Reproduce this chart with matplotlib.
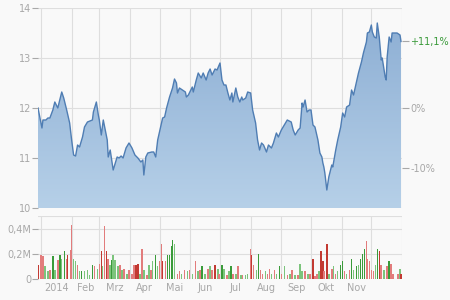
import numpy as np
import matplotlib
matplotlib.use('Agg')
import matplotlib.pyplot as plt
from matplotlib.colors import LinearSegmentedColormap

# closing prices, day offset from 2014-01-01
days = [-3, 1, 2, 5, 7, 9, 12, 14, 17, 21, 23, 26, 29, 31, 33, 35, 37, 39,
        42, 44, 47, 52, 53, 56, 58, 59, 61, 63, 64, 67, 68, 70, 73, 77, 79,
        81, 83, 86, 89, 92, 95, 98, 101, 103, 104, 106, 108, 112, 114, 116,
        118, 121, 123, 125, 127, 130, 133, 135, 137, 138, 140, 143, 146, 147,
        149, 153, 154, 157, 159, 162, 164, 167, 169, 171, 173, 176, 178, 181,
        183, 185, 187, 189, 191, 193, 194, 197, 199, 201, 203, 204, 207, 209,
        212, 214, 217, 219, 221, 223, 225, 228, 230, 233, 235, 238, 240, 243,
        246, 249, 253, 255, 257, 260, 262, 264, 265, 267, 269, 271, 273, 275,
        277, 280, 282, 284, 285, 286, 287, 289, 291, 294, 295, 298, 300, 303,
        305, 307, 309, 312, 314, 316, 319, 321, 324, 326, 329, 330, 332, 334,
        335, 337, 339, 340, 342, 344, 345, 348, 349, 350, 352, 354, 355, 360,
        363, 364]
close = [12.0, 11.6, 11.76, 11.76, 11.8, 11.8, 11.96, 12.12, 12.0, 12.32,
         12.2, 11.96, 11.7, 11.36, 11.06, 11.04, 11.26, 11.22, 11.42, 11.62,
         11.72, 11.76, 11.92, 12.12, 11.86, 11.76, 11.46, 11.76, 11.66, 11.36,
         11.02, 11.16, 10.76, 11.02, 11.0, 11.04, 11.0, 11.2, 11.3, 11.2,
         11.06, 11.0, 10.92, 10.96, 10.66, 11.02, 11.1, 11.12, 11.12, 11.02,
         11.36, 11.62, 11.8, 11.82, 12.0, 12.22, 12.4, 12.58, 12.5, 12.3,
         12.4, 12.36, 12.32, 12.22, 12.26, 12.42, 12.32, 12.56, 12.7, 12.6,
         12.7, 12.56, 12.7, 12.78, 12.66, 12.78, 12.76, 12.9, 12.56, 12.46,
         12.46, 12.3, 12.16, 12.3, 12.12, 12.4, 12.22, 12.12, 12.22, 12.16,
         12.2, 12.32, 12.3, 11.96, 11.7, 11.36, 11.16, 11.3, 11.26, 11.12,
         11.26, 11.2, 11.3, 11.5, 11.42, 11.56, 11.66, 11.76, 11.72, 11.56,
         11.46, 11.56, 11.6, 12.1, 12.02, 12.16, 11.92, 11.96, 11.96, 11.66,
         11.62, 11.36, 11.1, 11.02, 10.9, 10.82, 10.7, 10.36, 10.62, 10.86,
         10.82, 11.16, 11.36, 11.62, 11.9, 11.82, 12.02, 12.06, 12.36, 12.26,
         12.52, 12.7, 12.92, 13.1, 13.32, 13.5, 13.52, 13.66, 13.52, 13.42,
         13.4, 13.7, 13.42, 12.96, 13.0, 12.62, 12.56, 13.02, 13.42, 13.32,
         13.5, 13.5, 13.46, 13.33]

# volume in millions
vol_days = [-3, 0, 2, 4, 7, 9, 12, 14, 17, 19, 21, 24, 26, 27, 30, 31, 33,
            35, 37, 39, 41, 44, 47, 49, 52, 54, 57, 59, 61, 62, 64, 66, 68,
            70, 72, 73, 75, 78, 80, 82, 84, 87, 89, 92, 94, 96, 98, 100, 102,
            104, 107, 109, 111, 113, 116, 118, 120, 122, 123, 126, 128, 130,
            132, 133, 135, 138, 140, 142, 145, 148, 150, 153, 156, 159, 161,
            163, 166, 169, 171, 173, 176, 179, 180, 183, 185, 188, 190, 192,
            194, 197, 199, 202, 204, 207, 209, 212, 213, 215, 218, 220, 222,
            224, 227, 229, 231, 233, 236, 238, 241, 243, 246, 249, 252, 254,
            257, 260, 262, 264, 267, 270, 272, 275, 277, 279, 281, 283, 285,
            286, 289, 291, 294, 296, 298, 300, 303, 305, 307, 309, 312, 314,
            316, 319, 321, 323, 325, 327, 329, 330, 332, 334, 336, 338, 340,
            342, 344, 347, 350, 352, 354, 356, 361, 363, 364]
volume = [0.11, 0.19, 0.18, 0.10, 0.06, 0.07, 0.18, 0.07, 0.15, 0.19, 0.16,
          0.22, 0.16, 0.19, 0.23, 0.43, 0.16, 0.14, 0.11, 0.06, 0.06, 0.06,
          0.07, 0.03, 0.11, 0.10, 0.08, 0.12, 0.22, 0.10, 0.42, 0.22, 0.16,
          0.11, 0.15, 0.19, 0.15, 0.10, 0.11, 0.07, 0.08, 0.04, 0.07, 0.04,
          0.11, 0.11, 0.12, 0.04, 0.24, 0.07, 0.03, 0.11, 0.07, 0.14, 0.19,
          0.10, 0.14, 0.28, 0.14, 0.14, 0.19, 0.19, 0.26, 0.31, 0.28, 0.04,
          0.06, 0.04, 0.07, 0.06, 0.07, 0.04, 0.14, 0.06, 0.07, 0.10, 0.04,
          0.08, 0.10, 0.07, 0.11, 0.08, 0.04, 0.11, 0.08, 0.03, 0.06, 0.10,
          0.04, 0.04, 0.10, 0.03, 0.03, 0.03, 0.04, 0.24, 0.19, 0.11, 0.07,
          0.20, 0.07, 0.04, 0.06, 0.04, 0.08, 0.04, 0.07, 0.04, 0.10, 0.04,
          0.10, 0.03, 0.04, 0.07, 0.03, 0.03, 0.12, 0.06, 0.06, 0.04, 0.04,
          0.16, 0.02, 0.04, 0.06, 0.22, 0.14, 0.06, 0.28, 0.04, 0.08, 0.10,
          0.04, 0.06, 0.11, 0.14, 0.06, 0.04, 0.07, 0.16, 0.07, 0.10, 0.11,
          0.16, 0.20, 0.24, 0.30, 0.16, 0.14, 0.07, 0.06, 0.11, 0.24, 0.22,
          0.11, 0.07, 0.10, 0.14, 0.12, 0.04, 0.04, 0.08, 0.04]
# R/r = down day (dark/light), G/g = up day (dark/light), rows as above
vol_kind = ('RrrggrGgrGg' 'GrRrrggrgGg' 'ggGrgrRgrRr' 'gGgggrgrgrr'
            'rRRgrgrgrgG' 'grrRrGGGGgr' 'rgrgrgrgrGg' 'rgrRgrGgrgG'
            'rgrgrggrRrg' 'GrrgrrgrgGr' 'grgrgrggrgr' 'RrrgRRrRgrg'
            'rgGGrgrGgGg' 'GGGrrrrrgGR' 'rgrGrrrgR')

month_starts = [0, 31, 59, 90, 120, 151, 181, 212, 243, 273, 304, 334, 365]
month_names = ['2014', 'Feb', 'Mrz', 'Apr', 'Mai', 'Jun', 'Jul', 'Aug',
               'Sep', 'Okt', 'Nov']

bg = '#f9f9f9'
grid_c = '#dedede'
text_c = '#a8a8a8'
fsize = 7
kind_colors = {'R': '#c23a32', 'r': '#e27c7c', 'G': '#3a9b3a', 'g': '#7cc47c'}

fig = plt.figure(figsize=(4.5, 3), dpi=100, facecolor=bg)
ax = fig.add_axes([38/450, 1 - 208/300, 364/450, 200/300], facecolor=bg)
axv = fig.add_axes([38/450, 1 - 279/300, 364/450, 63/300], facecolor=bg)

x0, x1 = -3, 365

# price panel with gradient fill
poly = ax.fill_between(days, close, 10, color='none', lw=0)
cmap = LinearSegmentedColormap.from_list('fill', ['#b6d0e8', '#8badd3'])
grad = np.linspace(0, 1, 256).reshape(-1, 1)
img = ax.imshow(grad, extent=[x0, x1, 10, 14], origin='lower', cmap=cmap,
                aspect='auto', zorder=2)
img.set_clip_path(poly.get_paths()[0], transform=ax.transData)
ax.plot(days, close, color='#4f7db3', lw=1.0, zorder=3)

ax.set_xlim(x0, x1)
ax.set_ylim(10, 14)
ax.set_yticks([10, 11, 12, 13, 14])
ax.set_xticks(month_starts)
ax.set_xticklabels([])
ax.grid(True, color=grid_c, lw=0.8, zorder=1)
ax.set_axisbelow(True)
ax.tick_params(axis='x', length=0)
ax.tick_params(axis='y', length=4, color=text_c, labelcolor=text_c,
               labelsize=fsize, pad=1)
for s in ax.spines.values():
    s.set_visible(False)

# percentage scale on the right
base = close[0]
last = close[-1]
axr = ax.twinx()
axr.set_ylim(10, 14)
pct_vals = [(last / base - 1) * 100, 0, -10]
axr.set_yticks([base * (1 + p / 100) for p in pct_vals])
axr.set_yticklabels(['+11,1%', '0%', '-10%'])
axr.tick_params(axis='y', length=5, color=text_c, labelcolor=text_c,
                labelsize=fsize, pad=1)
axr.get_yticklabels()[0].set_color('#3a9a3a')
axr.yaxis.get_major_ticks()[0].tick2line.set_color('#3a9a3a')
for s in axr.spines.values():
    s.set_visible(False)

# volume panel
bar_colors = [kind_colors[k] for k in vol_kind]
axv.bar(vol_days, volume, width=1.5, color=bar_colors, lw=0, zorder=2)
axv.set_xlim(x0, x1)
axv.set_ylim(0, 0.5)
axv.set_yticks([0, 0.2, 0.4, 0.5])
axv.set_yticklabels(['0', '0,2M', '0,4M', ''])
axv.set_xticks(month_starts)
axv.set_xticklabels([])
mids = [(month_starts[i] + month_starts[i + 1]) / 2 for i in range(11)]
axv.set_xticks(mids, minor=True)
axv.set_xticklabels(month_names, minor=True)
axv.grid(True, which='major', color=grid_c, lw=0.8, zorder=1)
axv.set_axisbelow(True)
axv.tick_params(axis='x', which='both', length=0, labelcolor=text_c,
                labelsize=fsize, pad=3)
axv.tick_params(axis='y', length=4, color=text_c, labelcolor=text_c,
                labelsize=fsize, pad=1)
axv.yaxis.get_major_ticks()[3].tick1line.set_visible(False)
for s in axv.spines.values():
    s.set_visible(False)

fig.savefig('out.png', dpi=100, facecolor=bg)
